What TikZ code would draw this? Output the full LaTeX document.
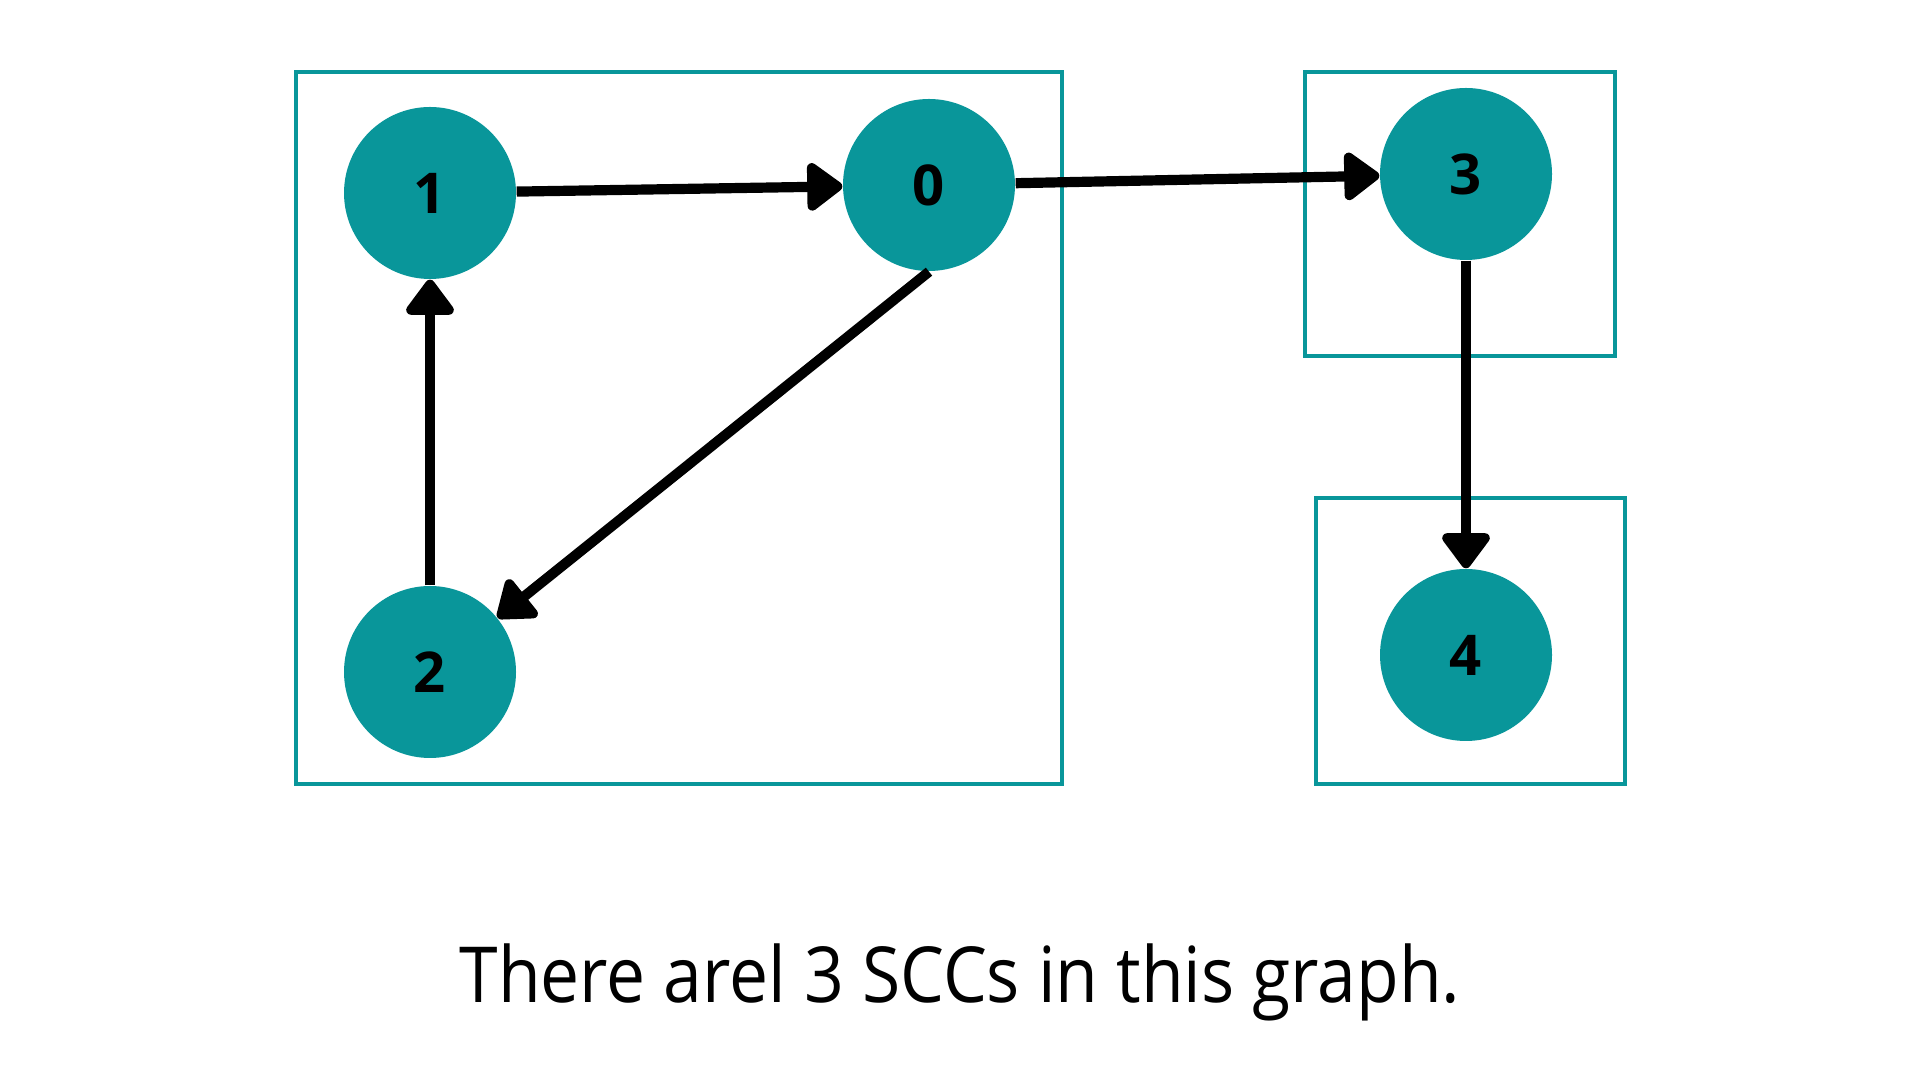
\documentclass[tikz,border=0pt]{standalone}
\usepackage{fontspec}
\setmainfont{Open Sans}
\newfontfamily\legendafont[FakeStretch=0.9]{Open Sans}
\usetikzlibrary{arrows.meta}
\definecolor{sccteal}{RGB}{9,150,154}
\tikzset{
  vertex/.style={circle, fill=sccteal, minimum size=1.72cm, inner sep=0pt, font=\fontsize{16}{18}\selectfont\bfseries},
  edge/.style={line width=2.9pt, -{Triangle[round, length=11pt, width=15.5pt]}},
  sccbox/.style={draw=sccteal, line width=1.4pt}
}
\begin{document}
\begin{tikzpicture}

\useasboundingbox (0,0) rectangle (19.2,10.8);

% Componentes fortemente conexas
\draw[sccbox] (2.96,2.96) rectangle (10.62,10.08);
\draw[sccbox] (13.05,7.24) rectangle (16.15,10.08);
\draw[sccbox] (13.16,2.96) rectangle (16.25,5.82);

% Vertices
\node[vertex] (n1) at (4.30,8.87) {1};
\node[vertex] (n0) at (9.29,8.95) {0};
\node[vertex] (n2) at (4.30,4.08) {2};
\node[vertex] (n3) at (14.66,9.06) {3};
\node[vertex] (n4) at (14.66,4.25) {4};

% Arestas
\draw[edge] (n1) -- (n0);
\draw[edge] (n0) -- (n3);
\draw[edge] (n0.south) -- (n2);
\draw[edge] (n2) -- (n1);
\draw[edge] (n3) -- (n4);

% Legenda
\node[font=\legendafont\fontsize{22}{26}\selectfont] (legenda) at (9.60,0.98) {There arel 3 SCCs in this graph.};

\end{tikzpicture}
\end{document}
